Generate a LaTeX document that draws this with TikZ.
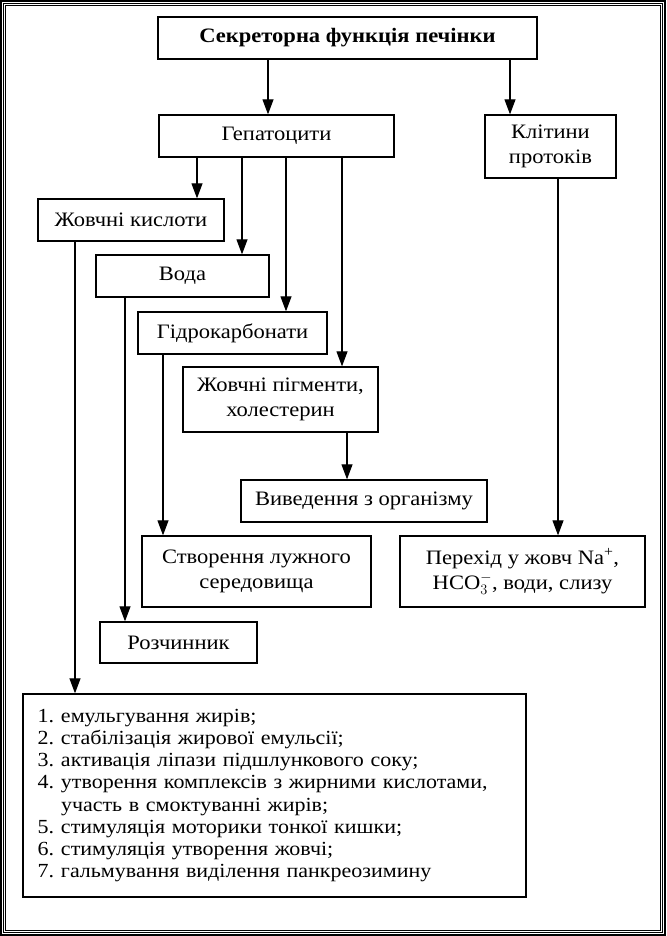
\documentclass[tikz,border=0pt]{standalone}
\usepackage{fontspec}
\setmainfont{Liberation Serif}[FakeStretch=1.1]
\usetikzlibrary{arrows.meta,positioning}
\tikzset{
  blk/.style={draw,line width=1.3pt,minimum height=42pt,align=center,
    inner sep=2pt,font=\fontsize{20.5}{24.5}\selectfont},
  arrow/.style={-{Triangle[length=15pt,width=11pt]},line width=1.1pt},
  frameline/.style={line width=1.1pt}
}
\begin{document}
\begin{tikzpicture}[x=1pt,y=-1pt]
  \useasboundingbox (0,0) rectangle (666,936);
  % triple frame
  \foreach \d in {1,3.3,5.6}{
    \draw[frameline] (\d,\d) rectangle (666-\d,936-\d);
  }
  % upper level
  \node[blk,minimum width=379pt,font=\fontsize{20.5}{24.5}\selectfont\bfseries] (sec) at (347.5,38) {Секреторна функція печінки};
  \node[blk,minimum width=235pt] (hep) at (276.5,136) {Гепатоцити};
  \node[blk,minimum width=131pt,minimum height=63pt] (kl) at (550.5,146.5) {Клітини\\протоків};
  % products of hepatocytes
  \node[blk,minimum width=186pt] (zk) at (131,220) {Жовчні кислоти};
  \node[blk,minimum width=173pt] (voda) at (182.5,276) {Вода};
  \node[blk,minimum width=189pt] (gk) at (232.5,333) {Гідрокарбонати};
  \node[blk,minimum width=195pt,minimum height=65pt] (jp) at (280.5,399.5) {Жовчні пігменти,\\холестерин};
  % results
  \node[blk,minimum width=246pt] (vyv) at (364,501) {Виведення з організму};
  \node[blk,minimum width=229pt,minimum height=71pt] (lug) at (256.5,571.5) {Створення лужного\\середовища};
  \node[blk,minimum width=245pt,minimum height=71pt] (per) at (522.5,571.5) {Перехід у жовч Na\textsuperscript{+},\\HCO$_3^-$, води, слизу};
  \node[blk,minimum width=157pt,minimum height=41pt] (roz) at (178.5,642.5) {Розчинник};
  \node[blk,minimum width=503pt,minimum height=203pt,align=left,text width=474pt,
    font=\fontsize{20}{22.2}\selectfont] (fn) at (274.5,795.5) {%
    \begin{tabular}{@{}l@{\hspace{7pt}}l@{}}
      1. & емульгування жирів;\\
      2. & стабілізація жирової емульсії;\\
      3. & активація ліпази підшлункового соку;\\
      4. & утворення комплексів з жирними кислотами,\\
         & участь в смоктуванні жирів;\\
      5. & стимуляція моторики тонкої кишки;\\
      6. & стимуляція утворення жовчі;\\
      7. & гальмування виділення панкреозимину
    \end{tabular}};
  % connectors
  \draw[arrow] (sec.south -| 268,0) -- (hep.north -| 268,0);
  \draw[arrow] (sec.south -| 510,0) -- (kl.north -| 510,0);
  \draw[arrow] (hep.south -| 197,0) -- (zk.north -| 197,0);
  \draw[arrow] (hep.south -| 242,0) -- (voda.north -| 242,0);
  \draw[arrow] (hep.south -| 286,0) -- (gk.north -| 286,0);
  \draw[arrow] (hep.south -| 342,0) -- (jp.north -| 342,0);
  \draw[arrow] (jp.south -| 347,0) -- (vyv.north -| 347,0);
  \draw[arrow] (kl.south -| 558,0) -- (per.north -| 558,0);
  \draw[arrow] (gk.south -| 163,0) -- (lug.north -| 163,0);
  \draw[arrow] (voda.south -| 125,0) -- (roz.north -| 125,0);
  \draw[arrow] (zk.south -| 75,0) -- (fn.north -| 75,0);
\end{tikzpicture}
\end{document}
